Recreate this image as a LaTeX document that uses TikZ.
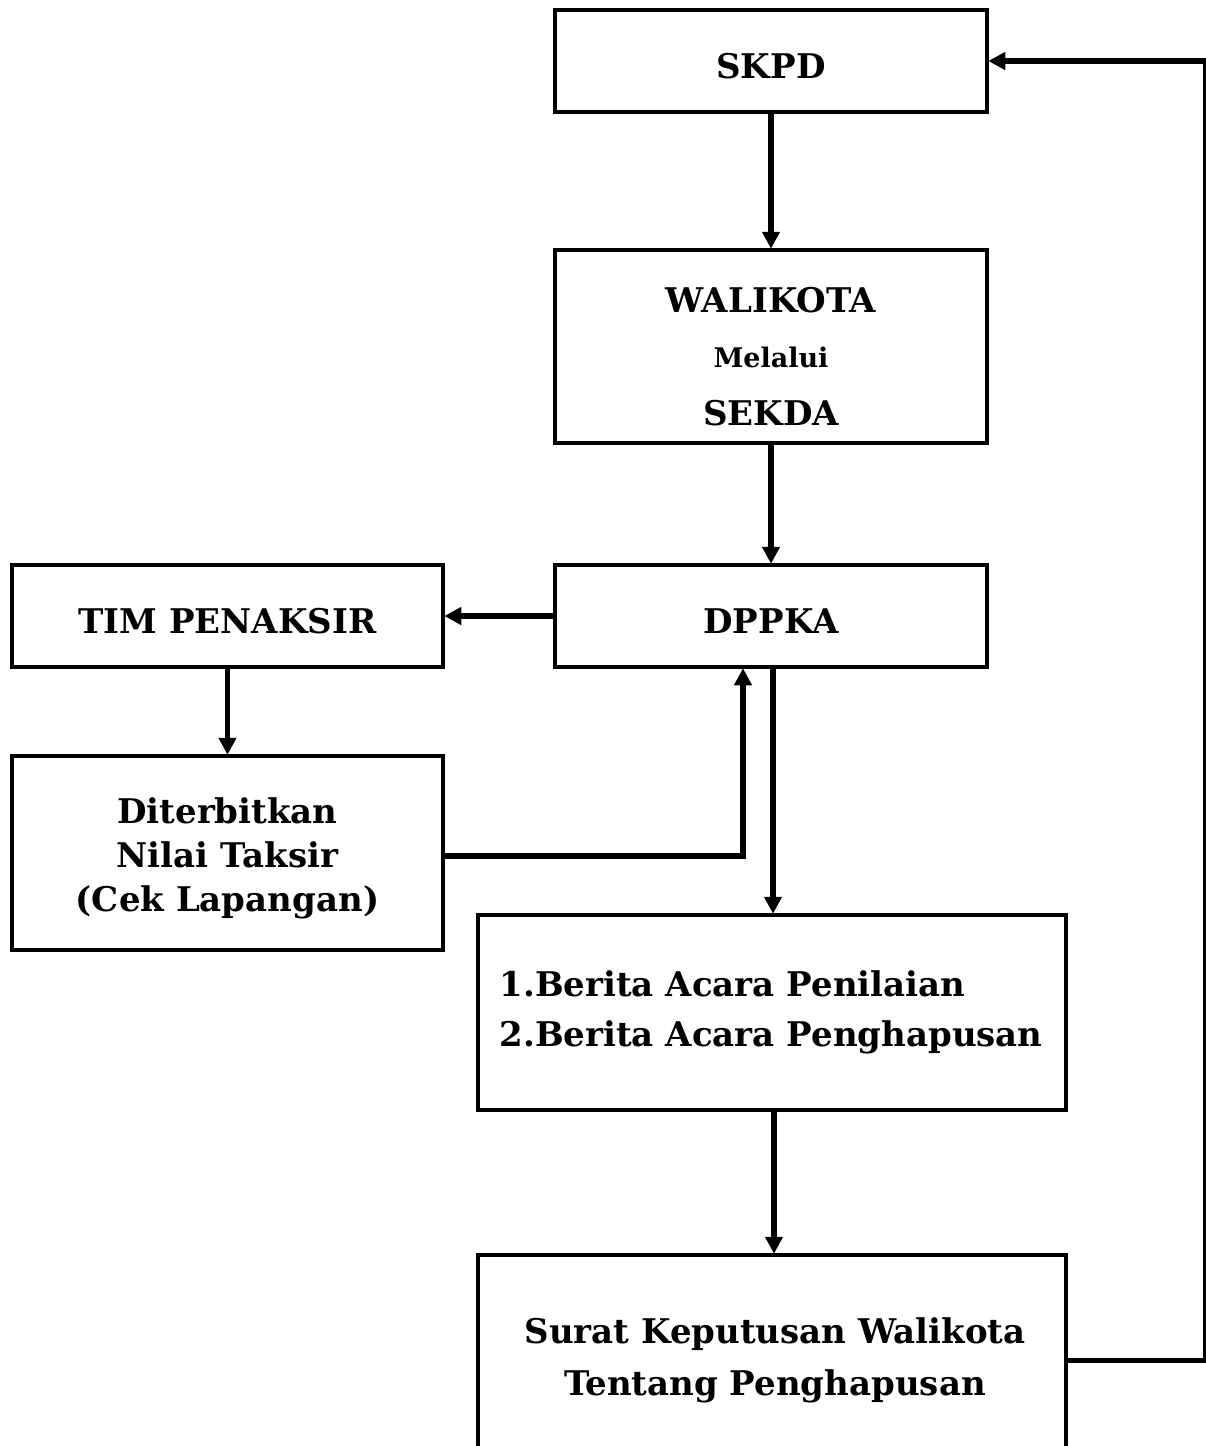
\documentclass[tikz,border=0pt]{standalone}
\usepackage{fontspec}
\setmainfont{DejaVu Serif}
\usetikzlibrary{arrows.meta}
\newcommand{\lowtxt}[1]{\raisebox{-5pt}[\height][\depth]{#1}}
\begin{document}
\begin{tikzpicture}[x=1pt,y=-1pt,
  box/.style={draw, line width=4.5pt, rectangle, inner sep=0pt, align=center, font=\fontsize{34}{44}\selectfont\bfseries},
  arr/.style={line width=5.5pt, -{Triangle[length=17pt,width=17pt]}, shorten >=-1pt},
  lbl/.style={font=\fontsize{34}{50}\selectfont\bfseries}]
\clip (0,0) rectangle (1206,1446);
\fill[white] (0,0) rectangle (1206,1446);
\node[box, minimum width=432pt, minimum height=102pt] (skpd) at (771,61) {\lowtxt{SKPD}};
\node[box, minimum width=432pt, minimum height=193pt] (wali) at (771,346.5) {};
\node[lbl] (w1) at (771,300) {WALIKOTA};
\node[lbl, font=\fontsize{27}{30}\selectfont\bfseries] (w2) at (771,357) {Melalui};
\node[lbl] (w3) at (771,413) {SEKDA};
\node[box, minimum width=432pt, minimum height=102pt] (dppka) at (771,616) {\lowtxt{DPPKA}};
\node[box, minimum width=431pt, minimum height=102pt] (tim) at (227.5,616) {\lowtxt{TIM PENAKSIR}};
\node[box, minimum width=431pt, minimum height=194pt] (dit) at (227.5,853) {\lowtxt{\parbox{400pt}{\centering Diterbitkan\\Nilai Taksir\\(Cek Lapangan)}}};
\node[box, minimum width=588pt, minimum height=195pt] (berita) at (772,1012.5) {};
\node[lbl, anchor=west, align=left] (btext) at (496,1012) {1.Berita Acara Penilaian\\2.Berita Acara Penghapusan};
\node[box, minimum width=588pt, minimum height=215pt] (surat) at (772,1362.5) {};
\node[lbl, align=center, font=\fontsize{34}{52}\selectfont\bfseries] (stext) at (775,1360) {Surat Keputusan Walikota\\Tentang Penghapusan};
\draw[arr] (skpd) -- (wali);
\draw[arr] (wali) -- (dppka);
\draw[arr] (dppka.west) -- (tim.east);
\draw[arr] (tim) -- (dit);
\draw[arr] ([yshift=-3pt]dit.east) -| ([xshift=-28pt]dppka.south);
\draw[arr] ([xshift=2pt]dppka.south) -- ([xshift=2pt]dppka.south |- berita.north);
\draw[arr] ([xshift=2pt]berita.south) -- ([xshift=2pt]berita.south |- surat.north);
\draw[arr] ([yshift=2pt]surat.east) -- ++(137,0) |- (skpd.east);
\end{tikzpicture}
\end{document}
